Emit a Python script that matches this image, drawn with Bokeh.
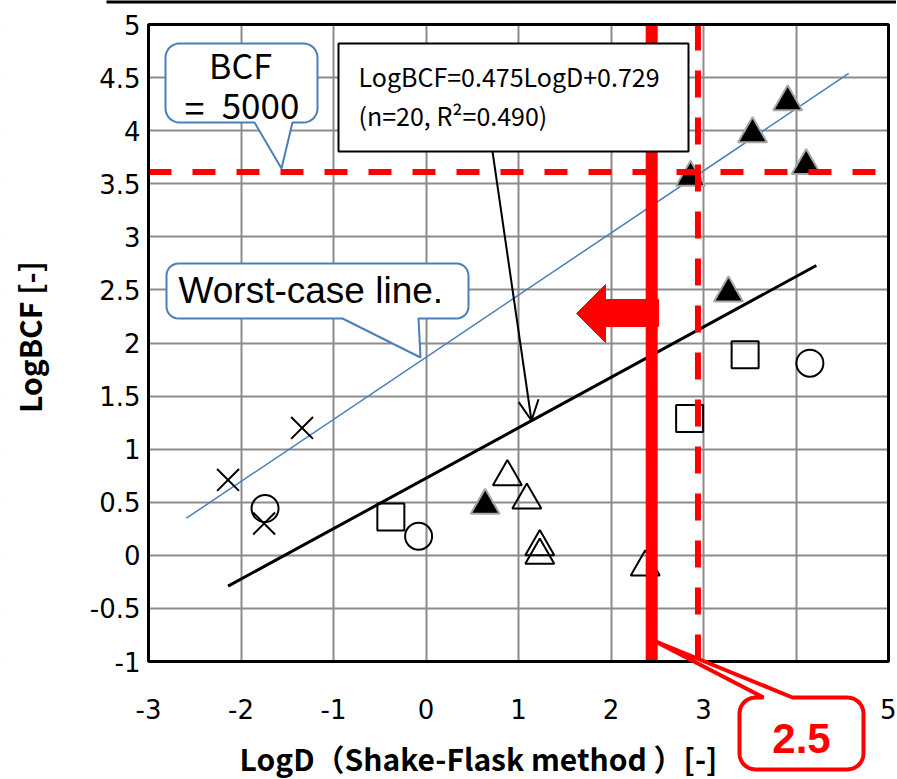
import numpy as np
from bokeh.plotting import figure
from bokeh.models import (PolyAnnotation, BoxAnnotation, Label, Arrow,
                          OpenHead, FixedTicker)
from bokeh.embed import file_html
from bokeh.resources import INLINE

# ---------------- data ----------------
filled_tri_x = [2.86, 3.53, 3.91, 4.11, 3.27, 0.64]
filled_tri_y = [3.56, 3.97, 4.27, 3.67, 2.47, 0.47]
open_tri_x = [0.88, 1.09, 1.23, 1.23, 2.37]
open_tri_y = [0.74, 0.52, 0.08, 0.00, -0.11]
square_x = [3.45, 2.85, -0.38]
square_y = [1.89, 1.29, 0.36]
circle_x = [4.15, -1.74, -0.08]
circle_y = [1.81, 0.44, 0.18]
cross_x = [-1.34, -2.14, -1.75]
cross_y = [1.20, 0.71, 0.30]

reg_x = [-2.14, 4.22]          # LogBCF = 0.475 LogD + 0.729
reg_y = [-0.29, 2.73]
worst_x = [-2.59, 4.57]        # worst-case line
worst_y = [0.35, 4.54]

bcf_limit = 3.61               # BCF = 5000 (dashed)
logd_limit = 2.44              # solid red limit
logd_dash = 2.94               # dashed red vertical

X_MIN, X_MAX = -3, 5
Y_MIN, Y_MAX = -1, 5
x_ticks = [-3, -2, -1, 0, 1, 2, 3, 4, 5]
x_tick_labels = ["-3", "-2", "-1", "0", "1", "2", "3", "", "5"]
y_ticks = [-1, -0.5, 0, 0.5, 1, 1.5, 2, 2.5, 3, 3.5, 4, 4.5, 5]
y_tick_labels = ["-1", "-0.5", "0", "0.5", "1", "1.5", "2", "2.5", "3",
                 "3.5", "4", "4.5", "5"]

x_title = "LogD\uff08Shake-Flask method \uff09[-]"
y_title = "LogBCF [-]"
eq_text = "LogBCF=0.475LogD+0.729"
stat_text = "(n=20, R\u00b2=0.490)"
limit_text = "2.5"

# ---------------- layout (page pixels) ----------------
W, H = 896, 778
FX0, FX1 = 148, 888           # pixel of X_MIN, X_MAX
FY0, FY1 = 24, 661            # pixel of Y_MAX, Y_MIN
PX = (FX1 - FX0) / (X_MAX - X_MIN)
PY = (FY1 - FY0) / (Y_MAX - Y_MIN)


def dx(px):
    return X_MIN + (px - FX0) / PX


def dy(py):
    return Y_MAX - (py - FY0) / PY


def callout(x0, y0, x1, y1, r, side, b1, tip, b2):
    pts = []

    def arc(cx, cy, a0, a1):
        for t in np.linspace(a0, a1, 8):
            pts.append((cx + r * np.cos(t), cy + r * np.sin(t)))

    arc(x0 + r, y0 + r, np.pi, 1.5 * np.pi)
    if side == "top":
        pts.extend([(b1, y0), tip, (b2, y0)])
    arc(x1 - r, y0 + r, 1.5 * np.pi, 2 * np.pi)
    arc(x1 - r, y1 - r, 0, 0.5 * np.pi)
    if side == "bottom":
        pts.extend([(b2, y1), tip, (b1, y1)])
    arc(x0 + r, y1 - r, 0.5 * np.pi, np.pi)
    return [dx(a) for a, b in pts], [dy(b) for a, b in pts]


CJK = "Noto Sans CJK JP"

# ---------------- figure: the frame fills the canvas, axes sit at fixed spots ----------------
p = figure(width=W, height=H,
           x_range=(dx(0), dx(W)), y_range=(dy(H), dy(0)),
           output_backend="svg", toolbar_location=None, min_border=0)
p.outline_line_color = None
p.background_fill_color = "white"
p.border_fill_color = "white"

p.xaxis.ticker = FixedTicker(ticks=x_ticks)
p.yaxis.ticker = FixedTicker(ticks=y_ticks)
p.xaxis.fixed_location = Y_MIN
p.yaxis.fixed_location = X_MIN
p.xaxis.major_label_overrides = {t: l for t, l in zip(x_ticks, x_tick_labels)}
p.yaxis.major_label_overrides = {t: l for t, l in zip(y_ticks, y_tick_labels)}
p.xgrid.ticker = FixedTicker(ticks=x_ticks)
p.ygrid.ticker = FixedTicker(ticks=y_ticks)
for g in (p.xgrid, p.ygrid):
    g.grid_line_color = "#8c8c8c"
    g.grid_line_width = 2

for ax in (p.xaxis, p.yaxis):
    ax.axis_line_color = None
    ax.major_tick_line_color = None
    ax.minor_tick_line_color = None
    ax.major_tick_out = 0
    ax.major_tick_in = 0
    ax.minor_tick_out = 0
    ax.minor_tick_in = 0
    ax.major_label_text_font = "DejaVu Sans"
    ax.major_label_text_font_size = "26px"
    ax.major_label_text_color = "black"
    ax.axis_label_text_font = CJK
    ax.axis_label_text_font_size = "30px"
    ax.axis_label_text_font_style = "bold"
    ax.axis_label_text_color = "black"

# ideographic spaces only shift the centred titles to where the reference has them
p.xaxis.axis_label = "\u3000\u3000" + x_title
p.yaxis.axis_label = "\u3000\u3000\u3000\u2002" + y_title
p.xaxis.major_label_standoff = 37
p.xaxis.axis_label_standoff = 14
p.yaxis.major_label_standoff = 8
p.yaxis.axis_label_standoff = 36

# white covers outside the plotting box (hide grid lines there)
FAR_L, FAR_R, FAR_B, FAR_T = dx(-50), dx(W + 50), dy(H + 50), dy(-50)
for kw in (dict(left=FAR_L, right=X_MIN, bottom=FAR_B, top=FAR_T),
           dict(left=X_MAX, right=FAR_R, bottom=FAR_B, top=FAR_T),
           dict(left=FAR_L, right=FAR_R, bottom=FAR_B, top=Y_MIN),
           dict(left=FAR_L, right=FAR_R, bottom=Y_MAX, top=FAR_T)):
    p.add_layout(BoxAnnotation(fill_color="white", fill_alpha=1, line_alpha=0,
                               level="glyph", **kw))
# thin strip at the far left edge (nothing is drawn there in the reference)
p.add_layout(BoxAnnotation(left=FAR_L, right=dx(12), bottom=FAR_B, top=dy(5),
                           fill_color="white", fill_alpha=1, line_alpha=0,
                           level="overlay"))

# remnant of the cut-off heading at the very top
p.add_layout(BoxAnnotation(left=dx(106), right=FAR_R, top=FAR_T, bottom=dy(3),
                           fill_color="black", fill_alpha=1, line_alpha=0,
                           level="annotation"))

# lines
p.line(worst_x, worst_y, line_color="#4a7ebb", line_width=1.5)
p.line(reg_x, reg_y, line_color="black", line_width=3)

# markers
p.scatter(cross_x, cross_y, marker="x", size=31, line_color="black", line_width=2)
p.scatter(circle_x, circle_y, marker="circle", size=27, fill_color=None,
          line_color="black", line_width=2)
p.scatter(square_x, square_y, marker="square", size=27, fill_color=None,
          line_color="black", line_width=2)
p.scatter(open_tri_x, open_tri_y, marker="triangle", size=29, fill_color=None,
          line_color="black", line_width=2)
p.scatter(filled_tri_x, filled_tri_y, marker="triangle", size=29, fill_color="black",
          line_color="#a6a6a6", line_width=2)

# plot-area border
p.add_layout(BoxAnnotation(left=X_MIN, right=X_MAX, bottom=Y_MIN, top=Y_MAX,
                           fill_alpha=0, line_color="black", line_alpha=1,
                           line_width=3, level="annotation"))

# red limit lines
p.segment(x0=[X_MIN], y0=[bcf_limit], x1=[X_MAX], y1=[bcf_limit],
          line_color="#ff0000", line_width=6, line_dash="23 21", level="annotation")
p.segment(x0=[logd_dash], y0=[Y_MIN], x1=[logd_dash], y1=[Y_MAX],
          line_color="#ff0000", line_width=6, line_dash="27 20", level="annotation")
p.segment(x0=[logd_limit], y0=[Y_MIN], x1=[logd_limit], y1=[Y_MAX],
          line_color="#ff0000", line_width=12, level="annotation")

# red left arrow
arr_px = [(576, 313), (605, 284), (605, 299), (658, 299), (658, 326),
          (605, 326), (605, 342)]
p.add_layout(PolyAnnotation(xs=[dx(a) for a, b in arr_px], ys=[dy(b) for a, b in arr_px],
                            fill_color="#ff0000", fill_alpha=1, line_color="#ff0000",
                            line_alpha=1, line_width=1, level="annotation"))


def label(px, py, text, font, size, align="left", style="normal", color="black"):
    p.add_layout(Label(x=dx(px), y=dy(py), text=text, text_font=font,
                       text_font_size=size, text_align=align, text_font_style=style,
                       text_color=color, text_baseline="middle", level="overlay"))


# equation box
p.add_layout(BoxAnnotation(left=dx(338), right=dx(688), top=dy(43), bottom=dy(151),
                           fill_color="white", fill_alpha=1, line_color="black",
                           line_alpha=1, line_width=2, level="overlay"))
label(358, 75, eq_text, CJK, "25px")
label(358, 114, stat_text, CJK, "25px")
p.add_layout(Arrow(end=OpenHead(size=20, line_width=2, line_color="black"),
                   x_start=dx(492), y_start=dy(151), x_end=dx(531), y_end=dy(420),
                   line_width=2, line_color="black", level="overlay"))

# BCF = 5000 callout
bx, by = callout(165, 43, 317, 122, 14, "bottom", 254, (281, 168), 292)
p.add_layout(PolyAnnotation(xs=bx, ys=by, fill_color="white", fill_alpha=1,
                            line_color="#4a7ebb", line_alpha=1, line_width=2,
                            level="overlay"))
label(240, 64, "BCF", CJK, "34px", align="center")
label(194, 105, "=", CJK, "36px", align="center")
label(260, 105, "5000", CJK, "35px", align="center")

# Worst-case line callout
wx, wy = callout(166, 263, 468, 318, 12, "bottom", 342, (420, 357), 418)
p.add_layout(PolyAnnotation(xs=wx, ys=wy, fill_color="white", fill_alpha=1,
                            line_color="#4a7ebb", line_alpha=1, line_width=2,
                            level="overlay"))
label(178, 290, "Worst-case line.", "Liberation Sans", "37px")

# "2.5" callout below the plotting box
rx, ry = callout(739, 697, 863, 769, 16, "top", 763, (653, 640), 792)
p.add_layout(PolyAnnotation(xs=rx, ys=ry, fill_color="white", fill_alpha=1,
                            line_color="#ff0000", line_alpha=1, line_width=4,
                            level="overlay"))
label(801, 738, limit_text, "Liberation Sans", "42px", align="center",
      style="bold", color="#ff0000")

open("out.html", "w").write(file_html(p, INLINE))
